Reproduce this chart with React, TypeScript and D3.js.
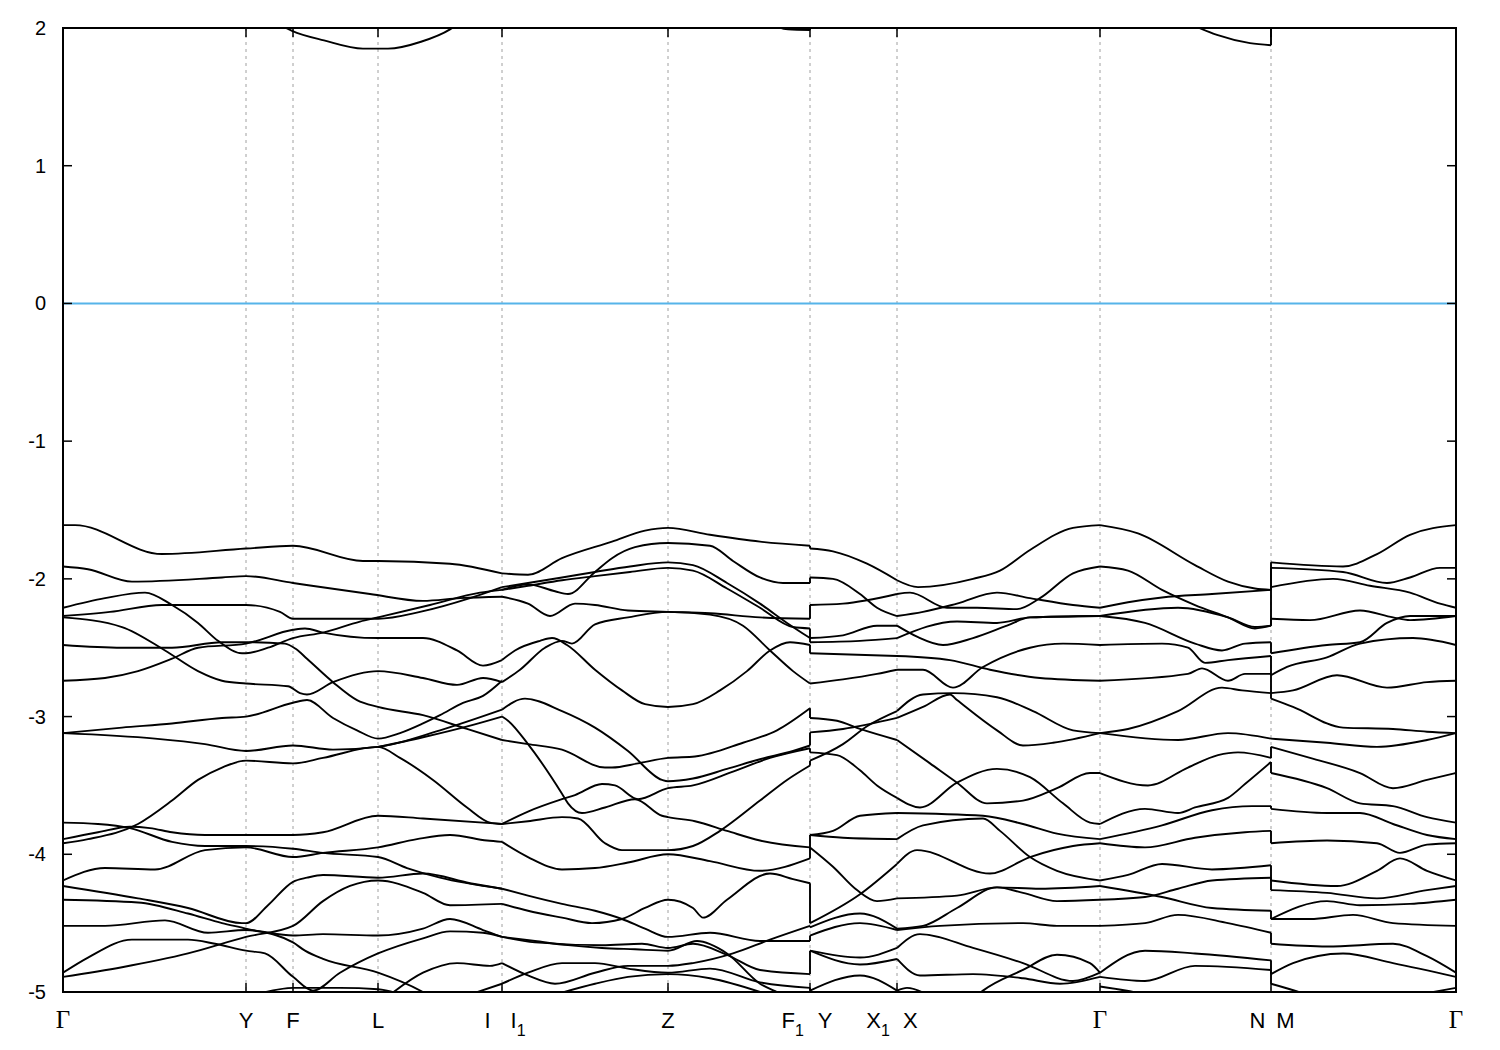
import React from 'react';
import * as d3 from 'd3';

type Pt = [number, number];

// ---- axis data ----
const energyTicks = [2, 1, 0, -1, -2, -3, -4, -5];
const kPoints = [0, 1.83, 2.30, 3.15, 4.39, 6.05, 7.47, 8.34, 10.37, 12.08, 13.93];
const kLabels = ['Γ', 'Y', 'F', 'L', 'I I_1', 'Z', 'F_1 Y', 'X_1 X', 'Γ', 'N M', 'Γ'];
const kMax = 13.93;
const eMin = -5;
const eMax = 2;

// ---- bands: segment Γ – Y – F – L – I ----
const gammaToI: Pt[][] = [
  [[0,-1.61],[0.12,-1.61],[0.99,-1.82],[1.83,-1.78],[2.30,-1.76],[3.00,-1.87],[3.15,-1.87],[3.87,-1.89],[4.39,-1.96]],
  [[0,-1.91],[0.25,-1.93],[0.69,-2.02],[1.59,-1.99],[1.83,-1.98],[2.30,-2.03],[3.07,-2.11],[3.60,-2.16],[3.97,-2.14],[4.39,-2.13]],
  [[0,-2.21],[0.42,-2.14],[0.82,-2.10],[1.09,-2.19],[1.35,-2.32],[1.55,-2.45],[1.79,-2.54],[1.83,-2.54],[2.05,-2.50],[2.30,-2.43],[2.60,-2.39],[2.97,-2.31],[3.15,-2.28],[3.67,-2.19],[4.17,-2.10],[4.39,-2.08]],
  [[0,-2.27],[0.47,-2.24],[0.99,-2.19],[1.83,-2.19],[2.17,-2.24],[2.30,-2.29],[3.15,-2.29],[3.57,-2.24],[4.07,-2.14],[4.39,-2.06]],
  [[0,-2.28],[0.59,-2.35],[1.02,-2.52],[1.35,-2.67],[1.59,-2.74],[1.83,-2.76],[2.25,-2.78],[2.37,-2.83],[2.44,-2.84],[2.70,-2.75],[3.15,-2.67],[3.60,-2.72],[3.94,-2.77],[4.20,-2.72],[4.39,-2.75]],
  [[0,-2.48],[0.59,-2.50],[1.09,-2.50],[1.59,-2.46],[1.83,-2.46],[2.22,-2.47],[2.33,-2.51],[2.44,-2.58],[2.70,-2.75],[2.94,-2.88],[3.15,-2.93],[3.60,-2.99],[4.04,-3.09],[4.39,-3.17]],
  [[0,-2.74],[0.42,-2.72],[0.75,-2.67],[1.09,-2.58],[1.35,-2.50],[1.83,-2.47],[2.30,-2.37],[2.42,-2.36],[2.60,-2.39],[3.15,-2.43],[3.60,-2.43],[3.94,-2.52],[4.20,-2.63],[4.39,-2.59]],
  [[0,-3.12],[0.59,-3.08],[1.09,-3.05],[1.59,-3.01],[1.83,-3.00],[2.30,-2.90],[2.44,-2.88],[2.70,-3.01],[2.94,-3.10],[3.15,-3.16],[3.37,-3.12],[3.60,-3.05],[3.77,-2.99],[4.00,-2.90],[4.20,-2.85],[4.39,-2.74]],
  [[0,-3.12],[0.92,-3.16],[1.42,-3.20],[1.83,-3.25],[2.30,-3.21],[2.70,-3.24],[3.15,-3.22],[3.77,-3.10],[4.39,-2.95]],
  [[3.15,-3.22],[3.60,-3.15],[4.10,-3.06],[4.39,-3.00]],
  [[0,-3.92],[0.25,-3.89],[0.75,-3.78],[1.09,-3.61],[1.35,-3.46],[1.59,-3.37],[1.83,-3.32],[2.30,-3.34],[2.60,-3.30],[3.15,-3.22],[3.37,-3.30],[3.70,-3.46],[4.04,-3.66],[4.27,-3.77],[4.39,-3.78]],
  [[0,-3.77],[0.35,-3.78],[0.67,-3.81],[1.09,-3.91],[1.42,-3.94],[1.83,-3.94],[2.30,-3.96],[2.60,-3.99],[3.15,-4.02],[3.44,-4.10],[3.77,-4.17],[4.39,-4.25]],
  [[0,-3.89],[0.35,-3.84],[0.67,-3.80],[0.87,-3.81],[1.09,-3.84],[1.42,-3.86],[1.83,-3.86],[2.30,-3.86],[2.60,-3.84],[3.15,-3.72],[3.60,-3.74],[4.39,-3.78]],
  [[0,-4.19],[0.42,-4.10],[0.92,-4.11],[1.42,-3.97],[1.83,-3.95],[2.30,-4.02],[2.60,-3.99],[3.15,-3.95],[3.54,-3.89],[3.87,-3.86],[4.24,-3.90],[4.39,-3.91]],
  [[0,-4.23],[0.75,-4.32],[1.25,-4.39],[1.79,-4.50],[1.83,-4.50],[2.05,-4.37],[2.30,-4.20],[2.44,-4.17],[2.60,-4.15],[3.15,-4.17],[3.60,-4.14],[4.07,-4.21],[4.39,-4.25]],
  [[0,-4.33],[0.75,-4.35],[1.25,-4.43],[1.59,-4.50],[1.83,-4.54],[2.30,-4.64],[2.42,-4.70],[2.60,-4.76],[3.15,-4.86],[3.60,-5.00],[3.77,-5.07]],
  [[0,-4.52],[0.42,-4.52],[1.02,-4.48],[1.45,-4.57],[1.83,-4.55],[2.30,-4.59],[2.60,-4.58],[3.15,-4.59],[3.60,-4.54],[3.87,-4.47],[4.20,-4.55],[4.39,-4.60]],
  [[0,-4.86],[0.25,-4.75],[0.69,-4.62],[1.25,-4.62],[1.52,-4.65],[1.83,-4.70],[2.02,-4.72],[2.30,-4.89],[2.50,-4.99],[2.77,-4.86],[3.15,-4.72],[3.60,-4.61],[3.87,-4.56],[4.20,-4.57],[4.39,-4.60]],
  [[0,-4.89],[0.59,-4.82],[1.25,-4.72],[1.83,-4.60],[2.30,-4.52],[2.60,-4.34],[2.87,-4.23],[3.15,-4.19],[3.60,-4.28],[3.87,-4.37],[4.39,-4.36]],
  [[3.27,-5.02],[3.60,-4.86],[3.94,-4.79],[4.27,-4.81],[4.39,-4.79]],
  [[3.90,-5.06],[4.39,-4.94]],
  [[1.50,-5.06],[1.83,-5.03],[2.30,-4.97],[2.77,-4.97],[3.15,-4.98],[3.47,-5.04]],
  [[0,-5.04],[0.15,-5.08]],
];

// ---- bands: segment I1 – Z – F1 ----
const i1ToF1: Pt[][] = [
  [[4.39,-1.96],[4.65,-1.97],[4.99,-1.85],[5.49,-1.73],[5.82,-1.65],[6.05,-1.63],[6.47,-1.68],[6.97,-1.73],[7.47,-1.76]],
  [[4.39,-2.08],[4.65,-2.04],[4.92,-2.09],[5.05,-2.11],[5.32,-1.95],[5.49,-1.85],[5.72,-1.77],[6.05,-1.74],[6.47,-1.76],[6.70,-1.87],[6.97,-1.99],[7.20,-2.03],[7.47,-2.03]],
  [[4.39,-2.06],[4.65,-2.03],[4.99,-1.99],[5.32,-1.95],[5.67,-1.91],[6.05,-1.88],[6.30,-1.90],[6.64,-2.03],[6.97,-2.18],[7.24,-2.32],[7.47,-2.43]],
  [[4.39,-2.08],[4.65,-2.05],[4.99,-2.01],[5.32,-1.98],[5.67,-1.95],[6.05,-1.92],[6.30,-1.94],[6.64,-2.07],[6.97,-2.21],[7.30,-2.35],[7.47,-2.36]],
  [[4.39,-2.13],[4.65,-2.18],[4.87,-2.27],[5.12,-2.18],[5.32,-2.19],[5.65,-2.23],[6.05,-2.24],[6.47,-2.25],[6.97,-2.28],[7.47,-2.29]],
  [[4.39,-2.75],[4.57,-2.66],[4.82,-2.50],[4.99,-2.45],[5.09,-2.47],[5.32,-2.33],[5.65,-2.28],[6.05,-2.24],[6.47,-2.26],[6.80,-2.34],[7.07,-2.52],[7.30,-2.67],[7.47,-2.76]],
  [[4.39,-2.59],[4.52,-2.52],[4.77,-2.45],[4.89,-2.43],[5.04,-2.48],[5.32,-2.66],[5.59,-2.81],[5.82,-2.91],[6.05,-2.93],[6.30,-2.91],[6.57,-2.81],[6.84,-2.67],[7.07,-2.52],[7.27,-2.46],[7.47,-2.48]],
  [[4.39,-2.95],[4.62,-2.87],[4.99,-2.96],[5.32,-3.08],[5.65,-3.25],[5.99,-3.46],[6.05,-3.47],[6.30,-3.45],[6.64,-3.38],[6.97,-3.31],[7.30,-3.25],[7.47,-3.21]],
  [[4.39,-3.17],[4.65,-3.20],[4.99,-3.24],[5.42,-3.37],[5.49,-3.37],[5.75,-3.34],[6.05,-3.30],[6.32,-3.29],[6.80,-3.19],[7.14,-3.10],[7.47,-2.94]],
  [[4.39,-3.00],[4.45,-3.03],[4.65,-3.20],[4.99,-3.56],[5.05,-3.63],[5.19,-3.70],[5.42,-3.66],[5.72,-3.60],[5.99,-3.72],[6.05,-3.73],[6.32,-3.76],[6.64,-3.83],[6.97,-3.90],[7.47,-3.95]],
  [[4.39,-3.78],[4.65,-3.69],[4.99,-3.60],[5.12,-3.57],[5.39,-3.49],[5.52,-3.50],[5.75,-3.60],[6.05,-3.52],[6.30,-3.50],[6.70,-3.40],[7.07,-3.30],[7.47,-3.23]],
  [[4.39,-3.78],[4.65,-3.76],[4.99,-3.73],[5.15,-3.74],[5.42,-3.92],[5.59,-3.97],[6.05,-3.97],[6.30,-3.94],[6.57,-3.83],[6.97,-3.61],[7.24,-3.46],[7.47,-3.355]],
  [[4.39,-3.91],[4.65,-4.02],[4.99,-4.11],[5.32,-4.10],[5.65,-4.06],[6.05,-4.00],[6.47,-4.05],[6.97,-4.12],[7.47,-4.03]],
  [[4.39,-4.25],[4.65,-4.30],[4.99,-4.36],[5.32,-4.41],[5.59,-4.47],[5.82,-4.54],[6.05,-4.60],[6.47,-4.57],[6.97,-4.63],[7.47,-4.63]],
  [[4.39,-4.36],[4.65,-4.41],[4.99,-4.46],[5.29,-4.50],[5.59,-4.47],[5.82,-4.39],[6.05,-4.33],[6.30,-4.39],[6.40,-4.46],[6.64,-4.33],[7.07,-4.14],[7.30,-4.18],[7.47,-4.21]],
  [[4.39,-4.60],[4.72,-4.63],[5.05,-4.66],[5.39,-4.68],[5.72,-4.69],[6.05,-4.70],[6.34,-4.63],[6.64,-4.72],[6.97,-4.94],[7.14,-5.00],[7.30,-5.05]],
  [[4.39,-4.60],[4.72,-4.64],[5.39,-4.66],[5.79,-4.65],[6.05,-4.68],[6.30,-4.65],[6.64,-4.73],[6.97,-4.84],[7.47,-4.87]],
  [[4.39,-4.79],[4.65,-4.88],[4.92,-4.94],[5.32,-4.86],[5.65,-4.81],[6.05,-4.81],[6.30,-4.79],[6.70,-4.72],[7.07,-4.62],[7.47,-4.52]],
  [[4.39,-4.94],[4.65,-4.86],[4.99,-4.79],[5.32,-4.79],[5.65,-4.83],[6.05,-4.86],[6.47,-4.83],[6.97,-4.93],[7.47,-4.97]],
  [[4.87,-5.03],[5.32,-4.94],[5.65,-4.89],[6.05,-4.87],[6.47,-4.90],[6.97,-5.00],[7.20,-5.06]],
];

// ---- bands: segment Y – X1 ----
const yToX1: Pt[][] = [
  [[7.47,-1.78],[7.70,-1.80],[8.04,-1.89],[8.34,-2.01]],
  [[7.47,-1.99],[7.70,-2.00],[7.97,-2.11],[8.14,-2.21],[8.34,-2.27]],
  [[7.47,-2.19],[7.80,-2.18],[8.34,-2.11]],
  [[7.47,-2.43],[7.80,-2.41],[8.14,-2.34],[8.34,-2.34]],
  [[7.47,-2.46],[7.97,-2.45],[8.34,-2.43]],
  [[7.47,-2.54],[8.34,-2.56]],
  [[7.47,-2.76],[7.80,-2.73],[8.14,-2.69],[8.34,-2.66]],
  [[7.47,-3.01],[7.74,-3.03],[7.97,-3.09],[8.34,-3.17]],
  [[7.47,-3.115],[7.80,-3.09],[8.34,-3.01]],
  [[7.47,-3.26],[7.74,-3.28],[7.97,-3.39],[8.14,-3.50],[8.34,-3.59]],
  [[7.47,-3.32],[7.80,-3.20],[8.04,-3.07],[8.34,-2.96]],
  [[7.47,-3.86],[7.70,-3.83],[7.97,-3.72],[8.34,-3.70]],
  [[7.47,-3.86],[7.80,-3.88],[8.34,-3.89]],
  [[7.47,-3.95],[7.70,-4.09],[7.94,-4.26],[8.14,-4.34],[8.34,-4.32]],
  [[7.47,-4.50],[7.97,-4.29],[8.34,-4.07]],
  [[7.47,-4.53],[7.97,-4.43],[8.34,-4.54]],
  [[7.47,-4.59],[7.97,-4.50],[8.34,-4.55]],
  [[7.47,-4.70],[7.97,-4.75],[8.34,-4.68]],
  [[7.47,-4.70],[7.97,-4.80],[8.34,-4.76]],
  [[7.47,-4.99],[7.97,-4.88],[8.34,-4.99]],
];

// ---- bands: segment X – Γ – N ----
const xToN: Pt[][] = [
  [[8.34,-2.01],[8.55,-2.06],[9.10,-2.00],[9.37,-1.94],[9.67,-1.79],[10.10,-1.63],[10.37,-1.61]],
  [[8.34,-2.11],[8.47,-2.10],[8.84,-2.21],[9.14,-2.21],[9.54,-2.22],[9.77,-2.14],[10.10,-1.96],[10.37,-1.91]],
  [[8.34,-2.27],[8.60,-2.24],[8.94,-2.18],[9.34,-2.10],[9.67,-2.14],[10.10,-2.19],[10.37,-2.21]],
  [[8.34,-2.34],[8.54,-2.42],[8.80,-2.48],[9.10,-2.43],[9.44,-2.34],[9.67,-2.28],[10.37,-2.27]],
  [[8.34,-2.43],[8.94,-2.31],[9.34,-2.32],[9.67,-2.28],[10.37,-2.27]],
  [[8.34,-2.56],[8.87,-2.59],[9.27,-2.66],[9.77,-2.72],[10.37,-2.74]],
  [[8.34,-2.66],[8.60,-2.66],[8.90,-2.79],[9.20,-2.64],[9.67,-2.50],[10.00,-2.47],[10.37,-2.48]],
  [[8.34,-2.96],[8.60,-2.84],[8.90,-2.83],[9.34,-2.86],[9.70,-2.96],[10.10,-3.10],[10.37,-3.12]],
  [[8.34,-3.01],[8.60,-2.93],[8.87,-2.84],[8.94,-2.88],[9.34,-3.10],[9.60,-3.21],[9.90,-3.19],[10.37,-3.12]],
  [[8.34,-3.17],[8.67,-3.34],[8.94,-3.48],[9.24,-3.63],[9.60,-3.61],[9.94,-3.52],[10.27,-3.41],[10.37,-3.41]],
  [[8.34,-3.59],[8.57,-3.66],[8.94,-3.48],[9.34,-3.38],[9.67,-3.44],[10.00,-3.63],[10.27,-3.77],[10.37,-3.78]],
  [[8.34,-3.70],[9.20,-3.72],[9.60,-3.78],[9.94,-3.85],[10.37,-3.89]],
  [[8.34,-3.89],[8.60,-3.79],[9.20,-3.74],[9.37,-3.83],[9.67,-4.02],[9.94,-4.12],[10.37,-4.19]],
  [[8.34,-4.07],[8.54,-3.97],[9.27,-4.14],[9.67,-4.02],[10.10,-3.94],[10.37,-3.92]],
  [[8.34,-4.32],[8.94,-4.30],[9.34,-4.24],[9.77,-4.25],[10.37,-4.23]],
  [[8.34,-4.54],[8.60,-4.52],[8.94,-4.39],[9.34,-4.24],[9.60,-4.28],[9.94,-4.34],[10.37,-4.33]],
  [[8.34,-4.55],[8.77,-4.52],[9.60,-4.50],[9.94,-4.52],[10.37,-4.52]],
  [[8.34,-4.68],[8.57,-4.58],[9.10,-4.68],[9.60,-4.79],[10.10,-4.92],[10.37,-4.86]],
  [[8.34,-4.76],[8.57,-4.88],[9.10,-4.87],[9.60,-4.90],[9.97,-4.94],[10.37,-4.89]],
  [[9.10,-5.05],[9.20,-4.99],[9.60,-4.84],[9.94,-4.73],[10.27,-4.79],[10.37,-4.86]],
  [[8.34,-4.99],[8.44,-4.97],[8.67,-5.03]],
  [[10.37,-1.61],[10.75,-1.67],[11.32,-1.90],[11.65,-2.02],[11.92,-2.07],[12.08,-2.08]],
  [[10.37,-1.91],[10.65,-1.94],[10.99,-2.08],[11.32,-2.19],[11.65,-2.28],[11.92,-2.36],[12.08,-2.34]],
  [[10.37,-2.21],[10.65,-2.17],[10.99,-2.135],[11.49,-2.11],[12.08,-2.08]],
  [[10.37,-2.27],[11.15,-2.21],[11.65,-2.28],[11.92,-2.35],[12.08,-2.34]],
  [[10.37,-2.27],[10.82,-2.32],[11.32,-2.47],[11.59,-2.52],[11.82,-2.47],[12.08,-2.46]],
  [[10.37,-2.48],[10.99,-2.47],[11.25,-2.50],[11.42,-2.61],[11.65,-2.59],[12.08,-2.56]],
  [[10.37,-2.74],[11.25,-2.69],[11.39,-2.65],[11.65,-2.74],[11.82,-2.69],[12.08,-2.69]],
  [[10.37,-3.12],[10.65,-3.09],[11.15,-2.96],[11.59,-2.79],[11.79,-2.81],[12.08,-2.83]],
  [[10.37,-3.12],[11.15,-3.17],[11.65,-3.12],[12.08,-3.16]],
  [[10.37,-3.41],[10.85,-3.50],[11.25,-3.37],[11.55,-3.28],[11.75,-3.26],[12.08,-3.30]],
  [[10.37,-3.78],[10.82,-3.67],[11.15,-3.70],[11.32,-3.66],[11.65,-3.59],[11.82,-3.49],[12.08,-3.33]],
  [[10.37,-3.89],[10.99,-3.79],[11.49,-3.68],[11.89,-3.65],[12.08,-3.65]],
  [[10.37,-3.92],[10.82,-3.95],[11.32,-3.88],[11.82,-3.84],[12.08,-3.83]],
  [[10.37,-4.19],[10.65,-4.15],[10.99,-4.07],[11.49,-4.11],[12.08,-4.08]],
  [[10.37,-4.23],[10.99,-4.31],[11.49,-4.39],[12.08,-4.41]],
  [[10.37,-4.33],[10.82,-4.31],[11.15,-4.25],[11.49,-4.19],[12.08,-4.17]],
  [[10.37,-4.52],[10.82,-4.50],[11.15,-4.44],[11.65,-4.50],[12.08,-4.57]],
  [[10.37,-4.86],[10.82,-4.70],[11.32,-4.72],[12.08,-4.77]],
  [[10.37,-4.89],[10.82,-4.92],[11.32,-4.81],[12.08,-4.84]],
  [[10.37,-4.96],[10.82,-5.02],[11.00,-5.06]],
];

// ---- bands: segment M – Γ ----
const mToGamma: Pt[][] = [
  [[12.08,-1.88],[12.80,-1.91],[13.14,-1.82],[13.47,-1.68],[13.93,-1.61]],
  [[12.08,-1.92],[12.80,-1.95],[13.24,-2.03],[13.47,-1.99],[13.77,-1.92],[13.93,-1.92]],
  [[12.08,-2.06],[12.70,-2.00],[13.07,-2.05],[13.47,-2.10],[13.77,-2.18],[13.93,-2.21]],
  [[12.08,-2.29],[12.47,-2.30],[12.97,-2.23],[13.30,-2.28],[13.47,-2.30],[13.93,-2.27]],
  [[12.08,-2.54],[12.64,-2.48],[12.97,-2.46],[13.24,-2.32],[13.47,-2.27],[13.93,-2.27]],
  [[12.08,-2.70],[12.24,-2.64],[12.64,-2.57],[12.97,-2.47],[13.50,-2.43],[13.93,-2.48]],
  [[12.08,-2.83],[12.30,-2.81],[12.74,-2.70],[13.24,-2.79],[13.64,-2.75],[13.93,-2.74]],
  [[12.08,-2.87],[12.30,-2.93],[12.80,-3.08],[13.30,-3.09],[13.64,-3.11],[13.93,-3.12]],
  [[12.08,-3.16],[12.64,-3.19],[13.14,-3.22],[13.64,-3.17],[13.93,-3.12]],
  [[12.08,-3.22],[12.47,-3.30],[12.97,-3.41],[13.30,-3.52],[13.64,-3.46],[13.93,-3.41]],
  [[12.08,-3.41],[12.64,-3.52],[12.97,-3.63],[13.30,-3.65],[13.64,-3.73],[13.93,-3.77]],
  [[12.08,-3.67],[12.64,-3.70],[12.97,-3.70],[13.30,-3.78],[13.64,-3.86],[13.93,-3.89]],
  [[12.08,-3.92],[12.64,-3.90],[13.14,-3.92],[13.37,-3.99],[13.64,-3.93],[13.93,-3.92]],
  [[12.08,-4.19],[12.74,-4.23],[13.14,-4.12],[13.37,-4.03],[13.64,-4.12],[13.93,-4.19]],
  [[12.08,-4.26],[12.64,-4.28],[13.14,-4.32],[13.64,-4.26],[13.93,-4.23]],
  [[12.08,-4.47],[12.64,-4.34],[12.97,-4.37],[13.47,-4.36],[13.93,-4.33]],
  [[12.08,-4.47],[12.47,-4.47],[12.90,-4.44],[13.30,-4.50],[13.93,-4.52]],
  [[12.08,-4.65],[12.64,-4.67],[13.30,-4.65],[13.64,-4.74],[13.93,-4.86]],
  [[12.08,-4.87],[12.30,-4.79],[12.80,-4.72],[13.30,-4.79],[13.93,-4.89]],
  [[12.08,-4.94],[12.40,-5.01],[12.55,-5.05]],
  [[13.55,-5.02],[13.93,-4.97]],
];

// ---- conduction band pieces near 2 eV ----
const upperBand: Pt[][] = [
  [[2.15,2.03],[2.29,1.98],[2.61,1.91],[3.00,1.85],[3.25,1.85],[3.58,1.90],[3.87,1.99],[3.95,2.03]],
  [[7.10,2.02],[7.25,1.99],[7.47,1.985]],
  [[11.30,2.02],[11.54,1.95],[11.87,1.89],[12.08,1.875]],
];

// ---- discontinuities: [energy before, energy after] ----
const jumpF1Y: Pt[] = [
  [-1.76,-1.78],[-2.03,-1.99],[-2.29,-2.19],[-2.36,-2.43],[-2.43,-2.46],[-2.48,-2.54],[-2.94,-3.01],
  [-3.21,-3.115],[-3.23,-3.26],[-3.355,-3.32],[-3.95,-3.86],[-4.03,-3.95],[-4.21,-4.50],[-4.52,-4.53],
  [-4.63,-4.59],[-4.87,-4.70],[-4.97,-4.99],[1.985,2.1],
];
const jumpNM: Pt[] = [
  [-2.08,-1.88],[-2.08,-1.92],[-2.34,-2.06],[-2.34,-2.29],[-2.46,-2.54],[-2.56,-2.70],[-2.69,-2.83],
  [-2.83,-2.87],[-3.30,-3.22],[-3.33,-3.41],[-3.65,-3.67],[-3.83,-3.92],[-4.08,-4.19],[-4.17,-4.26],
  [-4.41,-4.47],[-4.57,-4.65],[-4.77,-4.87],[-4.84,-4.94],[1.875,2.1],
];
const jumpK = [7.47, 12.08];

const W = 1500;
const H = 1050;
const M = { left: 63, right: 1456, top: 28, bottom: 992 };
const sansFont = "'Liberation Sans', Arial, Helvetica, sans-serif";
const serifFont = "'Liberation Serif', 'Times New Roman', serif";

// layout tweaks for the compound tick labels (index -> [x shift, gap between words])
const labelTweak: Record<number, [number, number]> = {
  4: [3, 20],
  6: [-3, 14],
  7: [-5, 13],
  9: [1, 11],
};

function Label({ text, x, y, gap }: { text: string; x: number; y: number; gap: number }) {
  const isGamma = text === 'Γ';
  const words = text.split(' ');
  const nodes: React.ReactNode[] = [];
  let shifted = false;
  let key = 0;
  words.forEach((w, wi) => {
    const parts = w.split(/_(\d)/);
    parts.forEach((p, i) => {
      if (!p.length) return;
      const dx = wi > 0 && i === 0 ? gap : 0;
      if (i % 2 === 1) {
        nodes.push(<tspan key={key++} dy={8} fontSize={16}>{p}</tspan>);
        shifted = true;
      } else {
        nodes.push(<tspan key={key++} dx={dx} dy={shifted ? -8 : 0}>{p}</tspan>);
        shifted = false;
      }
    });
  });
  return (
    <text x={x} y={y} textAnchor="middle" fontSize={isGamma ? 25 : 22}
      fontFamily={isGamma ? serifFont : sansFont} fill="#000">
      {nodes}
    </text>
  );
}

export default function App() {
  const x = d3.scaleLinear().domain([0, kMax]).range([M.left, M.right]);
  const y = d3.scaleLinear().domain([eMin, eMax]).range([M.bottom, M.top]);
  const line = d3.line<Pt>().x(d => x(d[0])).y(d => y(d[1])).curve(d3.curveMonotoneX);
  const bands = [...gammaToI, ...i1ToF1, ...yToX1, ...xToN, ...mToGamma, ...upperBand];
  const jumps = [jumpF1Y, jumpNM];
  const tickLen = 9;

  return (
    <svg width={W} height={H} style={{ position: 'absolute', left: 0, top: 0, background: '#fff' }}>
      <defs>
        <clipPath id="plotArea">
          <rect x={M.left} y={M.top} width={M.right - M.left} height={M.bottom - M.top} />
        </clipPath>
      </defs>
      <rect x={0} y={0} width={W} height={H} fill="#fff" />
      {kPoints.slice(1, -1).map((k, i) => (
        <line key={'g' + i} x1={x(k)} x2={x(k)} y1={M.top} y2={M.bottom}
          stroke="#a0a0a0" strokeWidth={1} strokeDasharray="3,4" />
      ))}
      <line x1={M.left} x2={M.right} y1={y(0)} y2={y(0)} stroke="#56b4e9" strokeWidth={2} />
      <g clipPath="url(#plotArea)" fill="none" stroke="#000" strokeWidth={1.9} strokeLinejoin="round">
        {bands.map((b, i) => <path key={'b' + i} d={line(b) || ''} />)}
        {jumps.map((arr, j) => arr.map((p, i) => (
          <line key={'j' + j + '-' + i} x1={x(jumpK[j])} x2={x(jumpK[j])} y1={y(p[0])} y2={y(p[1])} />
        )))}
      </g>
      <rect x={M.left} y={M.top} width={M.right - M.left} height={M.bottom - M.top}
        fill="none" stroke="#000" strokeWidth={2} />
      {energyTicks.map((e, i) => (
        <g key={'e' + i}>
          <line x1={M.left} x2={M.left + tickLen} y1={y(e)} y2={y(e)} stroke="#000" strokeWidth={1.5} />
          <line x1={M.right} x2={M.right - tickLen} y1={y(e)} y2={y(e)} stroke="#000" strokeWidth={1.5} />
          <text x={46} y={y(e) + 7} textAnchor="end" fontSize={20} fontFamily={sansFont}>{e}</text>
        </g>
      ))}
      {kPoints.map((k, i) => {
        const tw = labelTweak[i] || [0, 0];
        return (
          <g key={'k' + i}>
            <line x1={x(k)} x2={x(k)} y1={M.bottom} y2={M.bottom - tickLen} stroke="#000" strokeWidth={1.5} />
            <line x1={x(k)} x2={x(k)} y1={M.top} y2={M.top + tickLen} stroke="#000" strokeWidth={1.5} />
            <Label text={kLabels[i]} x={x(k) + tw[0]} y={1028} gap={tw[1]} />
          </g>
        );
      })}
    </svg>
  );
}
